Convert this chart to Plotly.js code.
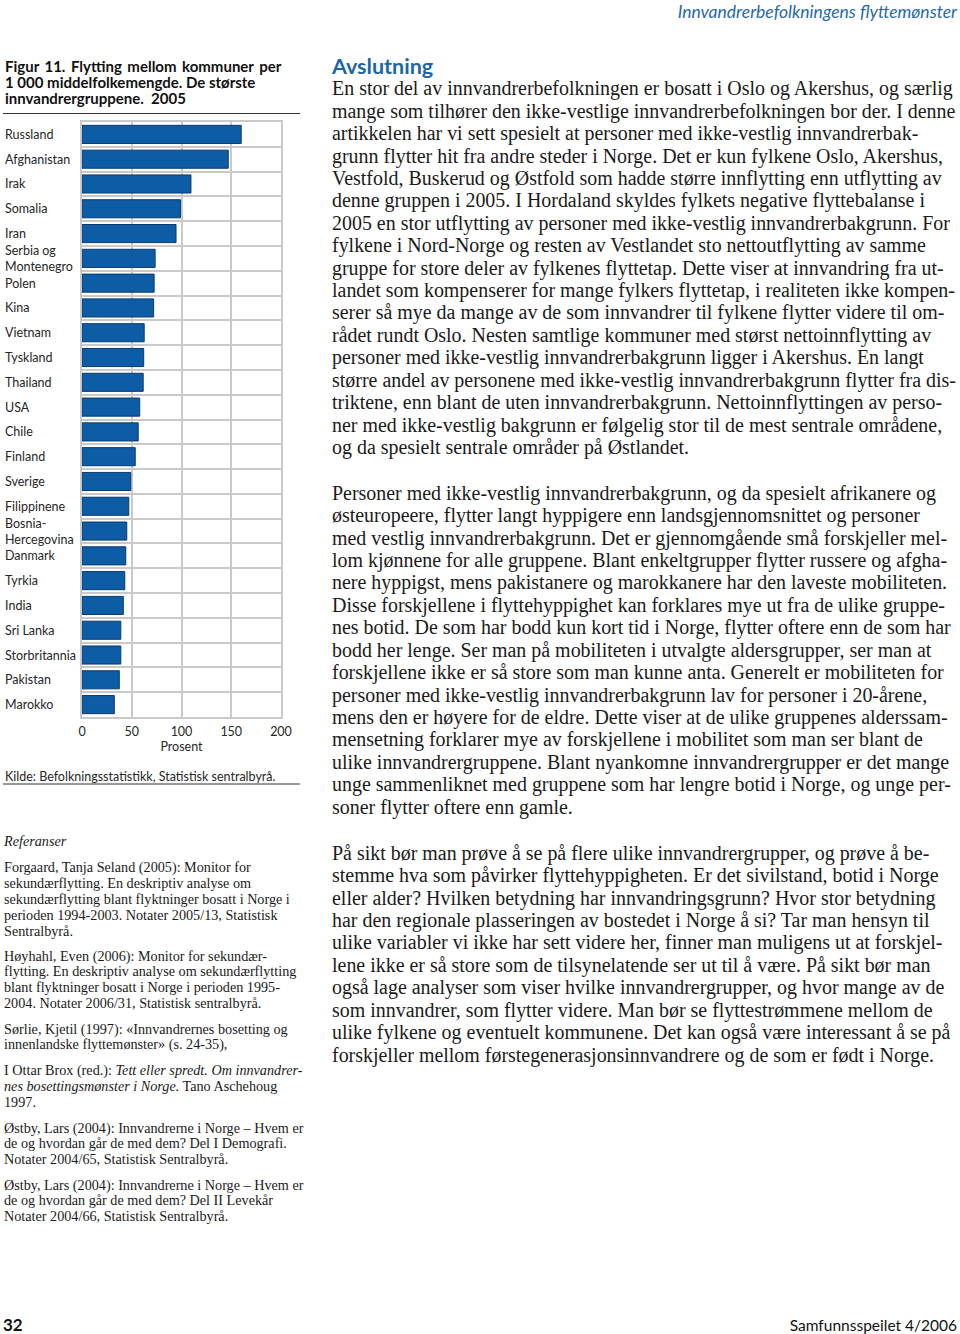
<!DOCTYPE html>
<html><head><meta charset="utf-8">
<script src="https://cdn.plot.ly/plotly-3.0.1.min.js"></script>
<style>
html,body{margin:0;padding:0;background:#fff;}
body{width:960px;height:1334px;position:relative;overflow:hidden;color:#1a1a1a;}
.ln{position:absolute;white-space:nowrap;font-family:'Liberation Serif',serif;}
.sans{position:absolute;white-space:nowrap;font-family:Lato,'Open Sans',sans-serif;}
</style></head><body>
<div id="page"></div>
<div id="chart" style="position:absolute;left:0;top:50px;width:310px;height:750px;"></div>
<script>
// ---------- chart data ----------
const categories = ['Russland','Afghanistan','Irak','Somalia','Iran','Serbia og Montenegro','Polen','Kina','Vietnam','Tyskland','Thailand','USA','Chile','Finland','Sverige','Filippinene','Bosnia-Hercegovina','Danmark','Tyrkia','India','Sri Lanka','Storbritannia','Pakistan','Marokko'];
const categoryLabels = ['Russland','Afghanistan','Irak','Somalia','Iran','Serbia og<br>Montenegro','Polen','Kina','Vietnam','Tyskland','Thailand','USA','Chile','Finland','Sverige','Filippinene','Bosnia-<br>Hercegovina','Danmark','Tyrkia','India','Sri Lanka','Storbritannia','Pakistan','Marokko'];
const values = [160,147,109.5,99,94.5,73.5,72.5,72,62.5,62,61.5,58,56.5,53.5,49,47,45,44,43,41.5,39,39,37.5,32.5];
const xTickVals = [0,50,100,150,200];
const xTickText = ['0','50','100','150','200'];
const titleLines = ['Figur \u200911. \u2009Flytting \u2009mellom \u2009kommuner \u2009per','1 000 middelfolkemengde. De største','innvandrergruppene.  2005'];
const axisTitle = 'Prosent';
const sourceText = 'Kilde: Befolkningsstatistikk, Statistisk sentralbyrå.';

// ---------- page text ----------
const headerText = 'Innvandrerbefolkningens  flyttemønster';
const headingText = 'Avslutning';
const para1 = [
'En stor del av innvandrerbefolkningen er bosatt i Oslo og Akershus, og særlig',
'mange som tilhører den ikke-vestlige innvandrerbefolkningen bor der. I denne',
'artikkelen har vi sett spesielt at personer med ikke-vestlig innvandrerbak-',
'grunn flytter hit fra andre steder i Norge. Det er kun fylkene Oslo, Akershus,',
'Vestfold, Buskerud og Østfold som hadde større innflytting enn utflytting av',
'denne gruppen i 2005. I Hordaland skyldes fylkets negative flyttebalanse i',
'2005 en stor utflytting av personer med ikke-vestlig innvandrerbakgrunn. For',
'fylkene i Nord-Norge og resten av Vestlandet sto nettoutflytting av samme',
'gruppe for store deler av fylkenes flyttetap. Dette viser at innvandring fra ut-',
'landet som kompenserer for mange fylkers flyttetap, i realiteten ikke kompen-',
'serer så mye da mange av de som innvandrer til fylkene flytter videre til om-',
'rådet rundt Oslo. Nesten samtlige kommuner med størst nettoinnflytting av',
'personer med ikke-vestlig innvandrerbakgrunn ligger i Akershus. En langt',
'større andel av personene med ikke-vestlig innvandrerbakgrunn flytter fra dis-',
'triktene, enn blant de uten innvandrerbakgrunn. Nettoinnflyttingen av perso-',
'ner med ikke-vestlig bakgrunn er følgelig stor til de mest sentrale områdene,',
'og da spesielt sentrale områder på Østlandet.'];
const para2 = [
'Personer med ikke-vestlig innvandrerbakgrunn, og da spesielt afrikanere og',
'østeuropeere, flytter langt hyppigere enn landsgjennomsnittet og personer',
'med vestlig innvandrerbakgrunn. Det er gjennomgående små forskjeller mel-',
'lom kjønnene for alle gruppene. Blant enkeltgrupper flytter russere og afgha-',
'nere hyppigst, mens pakistanere og marokkanere har den laveste mobiliteten.',
'Disse forskjellene i flyttehyppighet kan forklares mye ut fra de ulike gruppe-',
'nes botid. De som har bodd kun kort tid i Norge, flytter oftere enn de som har',
'bodd her lenge. Ser man på mobiliteten i utvalgte aldersgrupper, ser man at',
'forskjellene ikke er så store som man kunne anta. Generelt er mobiliteten for',
'personer med ikke-vestlig innvandrerbakgrunn lav for personer i 20-årene,',
'mens den er høyere for de eldre. Dette viser at de ulike gruppenes alderssam-',
'mensetning forklarer mye av forskjellene i mobilitet som man ser blant de',
'ulike innvandrergruppene. Blant nyankomne innvandrergrupper er det mange',
'unge sammenliknet med gruppene som har lengre botid i Norge, og unge per-',
'soner flytter oftere enn gamle.'];
const para3 = [
'På sikt bør man prøve å se på flere ulike innvandrergrupper, og prøve å be-',
'stemme hva som påvirker flyttehyppigheten. Er det sivilstand, botid i Norge',
'eller alder? Hvilken betydning har innvandringsgrunn? Hvor stor betydning',
'har den regionale plasseringen av bostedet i Norge å si? Tar man hensyn til',
'ulike variabler vi ikke har sett videre her, finner man muligens ut at forskjel-',
'lene ikke er så store som de tilsynelatende ser ut til å være. På sikt bør man',
'også lage analyser som viser hvilke innvandrergrupper, og hvor mange av de',
'som innvandrer, som flytter videre. Man bør se flyttestrømmene mellom de',
'ulike fylkene og eventuelt kommunene. Det kan også være interessant å se på',
'forskjeller mellom førstegenerasjonsinnvandrere og de som er født i Norge.'];
const refHeading = 'Referanser';
const ref1 = ['Forgaard, Tanja Seland (2005): Monitor for','sekundærflytting. En deskriptiv analyse om','sekundærflytting blant flyktninger bosatt i Norge i','perioden 1994-2003. Notater 2005/13, Statistisk','Sentralbyrå.'];
const ref2 = ['Høyhahl, Even (2006): Monitor for sekundær-','flytting. En deskriptiv analyse om sekundærflytting','blant flyktninger bosatt i Norge i perioden 1995-','2004. Notater 2006/31, Statistisk sentralbyrå.'];
const ref3 = ['Sørlie, Kjetil (1997): «Innvandrernes bosetting og','innenlandske flyttemønster» (s. 24-35),'];
const ref4 = ['I Ottar Brox (red.): <i>Tett eller spredt. Om innvandrer-</i>','<i>nes bosettingsmønster i Norge.</i> Tano Aschehoug','1997.'];
const ref5 = ['Østby, Lars (2004): Innvandrerne i Norge – Hvem er','de og hvordan går de med dem? Del I Demografi.','Notater 2004/65, Statistisk Sentralbyrå.'];
const ref6 = ['Østby, Lars (2004): Innvandrerne i Norge – Hvem er','de og hvordan går de med dem? Del II Levekår','Notater 2004/66, Statistisk Sentralbyrå.'];
const pageNo = '32';
const journal = 'Samfunnsspeilet  4/2006';

// ---------- text layout ----------
const cv = document.createElement('canvas').getContext('2d');
function fitSize(text, family, target){ cv.font = '100px ' + family; return 100*target/cv.measureText(text).width; }
const page = document.getElementById('page');
function add(cls, html, left, centerY, size, lh, extra){
  const d = document.createElement('div');
  d.className = cls; d.innerHTML = html;
  d.style.left = left + 'px'; d.style.top = (centerY - lh/2) + 'px';
  d.style.fontSize = size + 'px'; d.style.lineHeight = lh + 'px';
  if (extra) Object.assign(d.style, extra);
  page.appendChild(d); return d;
}
function block(lines, left, y0, lh, size){ lines.forEach((t,i)=>add('ln', t, left, y0 + i*lh, size, lh)); }

const bodySize = fitSize(para1[0], "'Liberation Serif'", 622);
const bodyLH = 22.42;
block(para1, 332, 88.5, bodyLH, bodySize);
block(para2, 332, 493, bodyLH, bodySize);
block(para3, 332, 853, bodyLH, bodySize);

const refSize = fitSize(ref1[2], "'Liberation Serif'", 286);
const refLH = 15.9;
add('ln', '<i>'+refHeading+'</i>', 4, 842, refSize, refLH);
block(ref1, 4, 868, refLH, refSize);
block(ref2, 4, 956.5, refLH, refSize);
block(ref3, 4, 1029.5, refLH, refSize);
block(ref4, 4, 1071, refLH, refSize);
block(ref5, 4, 1128.5, refLH, refSize);
block(ref6, 4, 1185.5, refLH, refSize);

add('sans', '<i>'+headerText+'</i>', 0, 12, 17.5, 20, {left:'auto', right:'3px', color:'#1f6aa9'});
add('sans', '<b>'+headingText+'</b>', 332, 66, 21.5, 24, {color:'#1b66a8'});
add('sans', '<b>'+pageNo+'</b>', 3, 1325, 17, 20, {color:'#111'});
add('sans', journal, 0, 1325, 15.5, 20, {left:'auto', right:'3px', color:'#111'});

// ---------- chart ----------
const grid = '#c9c9c9';
const W = 310, H = 750, M = {l:82, r:29, t:72, b:83};
const pw = W - M.l - M.r, ph = H - M.t - M.b;
const px2x = p => (p - M.l)/pw;               // page x -> paper x
const py2y = p => 1 - (p - 50 - M.t)/ph;       // page y -> paper y

const annotations = categories.map((c,i)=>({
  xref:'paper', x:px2x(3), xanchor:'left', yref:'y', y:c, yanchor:'middle',
  text:categoryLabels[i], showarrow:false, align:'left',
  font:{family:'Lato, sans-serif', size:12.5, color:'#262626'}
}));
const titleY = [66, 82, 98];
titleLines.forEach((t,i)=>annotations.push({
  xref:'paper', x:px2x(3), xanchor:'left', yref:'paper', y:py2y(titleY[i]), yanchor:'middle',
  text:t, showarrow:false, align:'left',
  font:{family:'Lato, sans-serif', size:15, weight:700, color:'#111'}
}));
annotations.push({
  xref:'paper', x:px2x(3), xanchor:'left', yref:'paper', y:py2y(776), yanchor:'middle',
  text:sourceText, showarrow:false, align:'left',
  font:{family:'Lato, sans-serif', size:12.5, color:'#262626'}
});

const shapes = [113.5, 784].map(py=>({
  type:'line', xref:'paper', yref:'paper', x0:px2x(3), x1:px2x(300), y0:py2y(py), y1:py2y(py),
  line:{color:'#333', width:1}
}));

Plotly.newPlot('chart', [{
  type:'bar', orientation:'h', x:values, y:categories,
  marker:{color:'#0d5ca6', line:{color:'#0a3a6e', width:1}},
  hoverinfo:'none'
}], {
  width:W, height:H, margin:M,
  paper_bgcolor:'rgba(0,0,0,0)', plot_bgcolor:'#fff',
  bargap:0.27, showlegend:false,
  font:{family:'Lato, sans-serif', size:12.5, color:'#262626'},
  xaxis:{range:[0,200], tickvals:xTickVals, ticktext:xTickText, showgrid:true, gridcolor:grid, gridwidth:2,
    zeroline:false, showline:true, mirror:true, linecolor:grid, linewidth:2, ticks:'', ticklabelstandoff:2,
    title:{text:axisTitle, standoff:2, font:{size:12.5}}, fixedrange:true},
  yaxis:{type:'category', categoryarray:categories, categoryorder:'array', autorange:'reversed',
    tickson:'boundaries', showgrid:true, gridcolor:grid, gridwidth:2, showline:true, mirror:true,
    linecolor:grid, linewidth:2, showticklabels:false, ticks:'', fixedrange:true},
  annotations:annotations, shapes:shapes
}, {staticPlot:true});
</script>
</body></html>
